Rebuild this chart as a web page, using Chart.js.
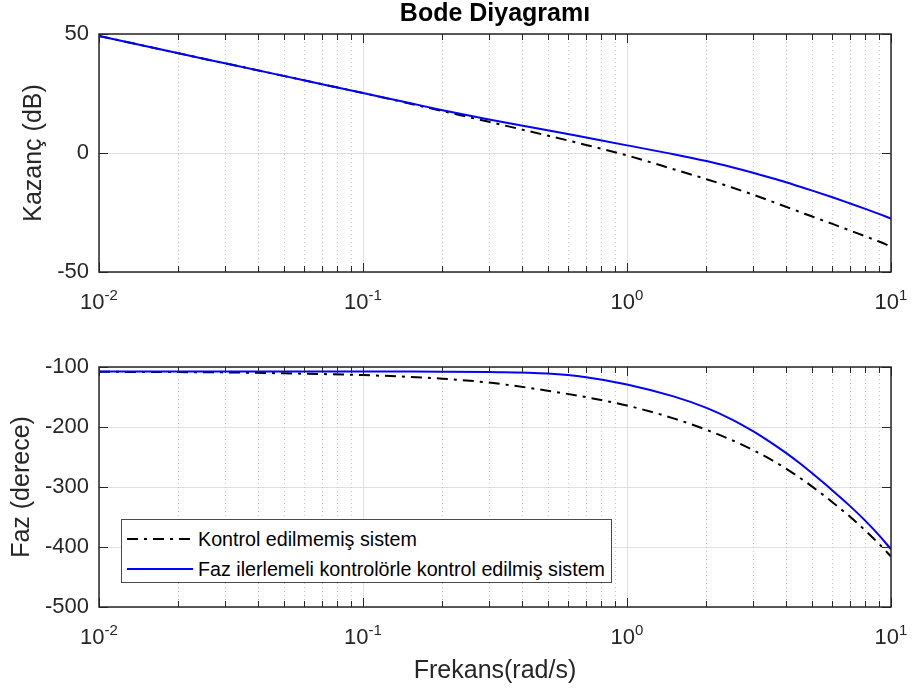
<!DOCTYPE html>
<html lang="tr">
<head>
    <meta charset="UTF-8">
    <title>Bode Diyagramı</title>
    <script src="https://cdn.jsdelivr.net/npm/chart.js"></script>
    <style>
        body { margin: 0; background: #fff; font-family: "Liberation Sans", Arial, Helvetica, sans-serif; }
        #wrap { position: relative; width: 912px; height: 693px; background: #fff; }
        #title { position: absolute; left: 99px; width: 792px; top: -2px; text-align: center;
                 font-weight: bold; font-size: 25px; color: #000; }
        #magCanvas { position: absolute; left: 0; top: 0; }
        #phaseCanvas { position: absolute; left: 0; top: 330px; }
        #legend { position: absolute; left: 121px; top: 519px; width: 491px; height: 64px;
                  box-sizing: border-box; border: 1px solid #4a4a4a; background: #fff; }
        #legend svg { position: absolute; left: 5px; }
        #legend span { position: absolute; left: 76px; font-size: 19.7px; line-height: 20px; color: #000; white-space: nowrap; }
    </style>
</head>
<body>
    <div id="wrap">
        <canvas id="magCanvas" width="912" height="330"></canvas>
        <canvas id="phaseCanvas" width="912" height="363"></canvas>
        <div id="title">Bode Diyagramı</div>
        <div id="legend">
            <svg style="top:15px" width="66" height="8"><line x1="0" y1="4" x2="66" y2="4" stroke="#000" stroke-width="2" stroke-dasharray="11 6 3 6"/></svg>
            <span id="leg0" style="top:9px"></span>
            <svg style="top:45px" width="66" height="8"><line x1="0" y1="4" x2="66" y2="4" stroke="#0000ff" stroke-width="2"/></svg>
            <span id="leg1" style="top:39px"></span>
        </div>
    </div>
    <script>
        // frequency samples (rad/s)
        const freq = [0.01, 0.02, 0.03, 0.05, 0.07, 0.1, 0.15, 0.2, 0.3, 0.5, 0.7, 1, 1.5, 2, 2.5, 3, 3.5, 4, 4.5, 5, 6, 7, 8, 9, 10];
        // gain (dB)
        const magUnc  = [49.2, 41.9, 37.7, 32.4, 28.9, 25.2, 20.8, 17.6, 13.1, 7.3, 3.4, -1.0, -6.8, -11.0, -14.5, -17.5, -20.2, -22.6, -24.7, -26.6, -29.8, -32.6, -35.0, -37.2, -39.3];
        const magCtrl = [49.2, 41.9, 37.7, 32.4, 28.9, 25.2, 21.0, 18.0, 14.1, 9.6, 6.5, 3.2, -0.5, -3.4, -6.0, -8.3, -10.4, -12.3, -14.1, -15.7, -18.6, -21.2, -23.5, -25.6, -27.5];
        // phase (degrees)
        const phUnc  = [-108, -108.5, -109, -110.5, -111.8, -113.5, -116.5, -119.5, -126, -139.5, -150.3, -164.2, -185.6, -204.7, -222.1, -238.4, -254.0, -269.3, -284.2, -298.5, -325.3, -349.7, -372.7, -394.6, -415.8];
        const phCtrl = [-107.5, -107.5, -107.5, -107.5, -107.5, -107.5, -107.6, -107.8, -108.5, -111, -117, -129, -149, -168.1, -187.6, -207.0, -225.6, -243.2, -260.1, -276.4, -305.7, -331.9, -356.4, -380.2, -403.8];

        const seriesNames = ['Kontrol edilmemiş sistem', 'Faz ilerlemeli kontrolörle kontrol edilmiş sistem'];
        const decades = [0.01, 0.1, 1, 10];
        const decadeExp = ['-2', '-1', '0', '1'];
        const magTicks = [-50, 0, 50];
        const phTicks = [-500, -400, -300, -200, -100];

        document.getElementById('leg0').textContent = seriesNames[0];
        document.getElementById('leg1').textContent = seriesNames[1];

        const FONT = '"Liberation Sans", Arial, Helvetica, sans-serif';
        const AXIS = '#262626';
        Chart.defaults.font.family = FONT;

        // minor grid positions 2..9 in every decade
        const minorVals = [];
        for (let i = 0; i < decades.length - 1; i++) {
            for (let k = 2; k <= 9; k++) minorVals.push(k * decades[i]);
        }

        // MATLAB-like box, inner ticks, dotted minor grid and 10^n labels
        const matlabAxes = {
            id: 'matlabAxes',
            beforeDatasetsDraw(chart) {
                const { ctx, chartArea: a, scales: { x } } = chart;
                ctx.save();
                ctx.lineWidth = 1;
                ctx.strokeStyle = '#c6c6c6';
                ctx.setLineDash([1, 3]);
                minorVals.forEach(v => {
                    const px = Math.round(x.getPixelForValue(v)) + 0.5;
                    ctx.beginPath(); ctx.moveTo(px, a.top); ctx.lineTo(px, a.bottom); ctx.stroke();
                });
                ctx.setLineDash([]);
                ctx.strokeStyle = '#dfdfdf';
                decades.forEach(v => {
                    const px = Math.round(x.getPixelForValue(v)) + 0.5;
                    ctx.beginPath(); ctx.moveTo(px, a.top); ctx.lineTo(px, a.bottom); ctx.stroke();
                });
                ctx.restore();
            },
            afterDatasetsDraw(chart) {
                const { ctx, chartArea: a, scales: { x, y } } = chart;
                ctx.save();
                ctx.strokeStyle = AXIS;
                ctx.lineWidth = 1;
                const tick = (x1, y1, x2, y2) => { ctx.beginPath(); ctx.moveTo(x1, y1); ctx.lineTo(x2, y2); ctx.stroke(); };
                minorVals.forEach(v => {
                    const px = Math.round(x.getPixelForValue(v)) + 0.5;
                    tick(px, a.bottom, px, a.bottom - 6);
                    tick(px, a.top, px, a.top + 6);
                });
                decades.forEach(v => {
                    const px = Math.round(x.getPixelForValue(v)) + 0.5;
                    tick(px, a.bottom, px, a.bottom - 9);
                    tick(px, a.top, px, a.top + 9);
                });
                y.ticks.forEach(t => {
                    const py = Math.round(y.getPixelForValue(t.value)) + 0.5;
                    tick(a.left, py, a.left + 9, py);
                    tick(a.right, py, a.right - 9, py);
                });
                ctx.lineWidth = 1.5;
                ctx.strokeRect(a.left, a.top, a.right - a.left, a.bottom - a.top);

                // x tick labels as 10 with superscript exponent
                ctx.fillStyle = AXIS;
                ctx.textBaseline = 'alphabetic';
                ctx.textAlign = 'left';
                decades.forEach((v, i) => {
                    const px = x.getPixelForValue(v);
                    ctx.font = '22px ' + FONT;
                    const w10 = ctx.measureText('10').width;
                    ctx.font = '15px ' + FONT;
                    const wE = ctx.measureText(decadeExp[i]).width;
                    const sx = px - (w10 + wE) / 2;
                    ctx.font = '22px ' + FONT;
                    ctx.fillText('10', sx, a.bottom + 37);
                    ctx.font = '15px ' + FONT;
                    ctx.fillText(decadeExp[i], sx + w10, a.bottom + 28);
                });
                ctx.restore();
            }
        };

        function makeChart(id, unc, ctrl, yMin, yMax, yTickVals, yTitle, yTitlePad, topPad, xHeight, xTitle) {
            return new Chart(document.getElementById(id), {
                type: 'line',
                data: {
                    datasets: [
                        {
                            label: seriesNames[1],
                            data: freq.map((f, i) => ({ x: f, y: ctrl[i] })),
                            borderColor: '#0000ff',
                            borderWidth: 2,
                            pointRadius: 0,
                            cubicInterpolationMode: 'monotone',
                            order: 0
                        },
                        {
                            label: seriesNames[0],
                            data: freq.map((f, i) => ({ x: f, y: unc[i] })),
                            borderColor: '#000000',
                            borderWidth: 2,
                            borderDash: [11, 6, 3, 6],
                            pointRadius: 0,
                            cubicInterpolationMode: 'monotone',
                            order: 1
                        }
                    ]
                },
                options: {
                    responsive: false,
                    animation: false,
                    devicePixelRatio: 1,
                    layout: { padding: { top: topPad, right: 21, left: 0, bottom: 0 } },
                    plugins: { legend: { display: false }, tooltip: { enabled: false } },
                    scales: {
                        x: {
                            type: 'logarithmic',
                            min: 0.01,
                            max: 10,
                            grid: { display: false },
                            border: { display: false },
                            ticks: { display: false },
                            title: {
                                display: !!xTitle,
                                text: xTitle || '',
                                color: AXIS,
                                font: { size: 25 },
                                padding: { top: 0, bottom: 7 }
                            },
                            afterFit: s => { s.height = xHeight; }
                        },
                        y: {
                            type: 'linear',
                            min: yMin,
                            max: yMax,
                            afterBuildTicks: s => { s.ticks = yTickVals.map(v => ({ value: v })); },
                            grid: { color: '#dfdfdf', drawTicks: false },
                            border: { display: false },
                            ticks: { color: AXIS, font: { size: 22 }, padding: 10 },
                            title: {
                                display: true,
                                text: yTitle,
                                color: AXIS,
                                font: { size: 25 },
                                padding: { top: yTitlePad, bottom: 0 }
                            },
                            afterFit: s => { s.width = 99; }
                        }
                    }
                },
                plugins: [matlabAxes]
            });
        }

        makeChart('magCanvas', magUnc, magCtrl, -50, 50, magTicks, 'Kazanç (dB)', 19, 34, 58, null);
        makeChart('phaseCanvas', phUnc, phCtrl, -500, -100, phTicks, 'Faz (derece)', 7, 37, 86, 'Frekans(rad/s)');
    </script>
</body>
</html>
